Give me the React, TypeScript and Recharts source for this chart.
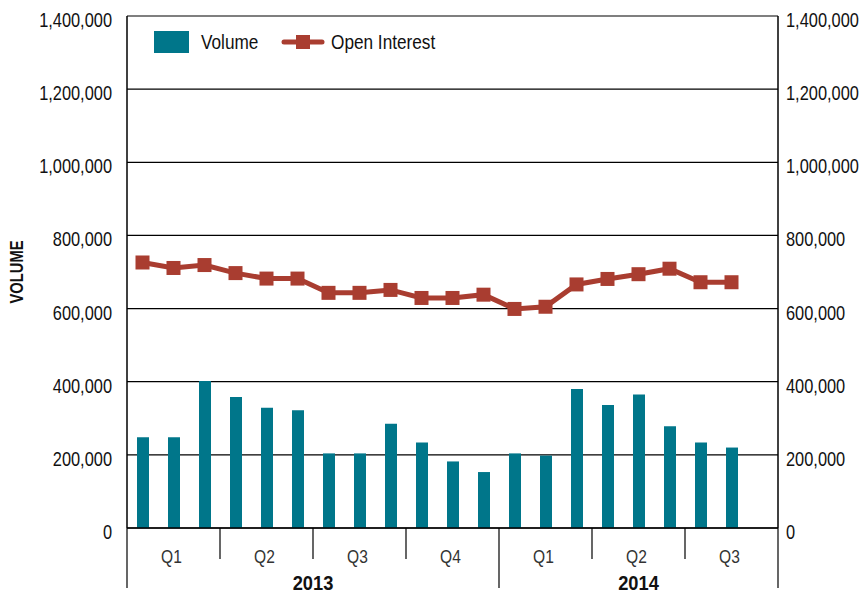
import React from 'react';
import { ComposedChart, Bar, Line, XAxis, YAxis, CartesianGrid, Legend } from 'recharts';

const FONT = '"Liberation Sans", Arial, sans-serif';
const SQUEEZE = 0.82; // Liberation Sans squeezed to look like a narrow face
const TEAL = '#00768a';
const RED = '#a93d30';

// one category per month, Jan 2013 - Sep 2014
const months = [
    'Jan 13', 'Feb 13', 'Mar 13', 'Apr 13', 'May 13', 'Jun 13',
    'Jul 13', 'Aug 13', 'Sep 13', 'Oct 13', 'Nov 13', 'Dec 13',
    'Jan 14', 'Feb 14', 'Mar 14', 'Apr 14', 'May 14', 'Jun 14',
    'Jul 14', 'Aug 14', 'Sep 14',
];
const quarterLabels = ['Q1', 'Q2', 'Q3', 'Q4', 'Q1', 'Q2', 'Q3'];
const yearLabels = ['2013', '2014'];

const volume = [
    248000, 248000, 402000, 358000, 329000, 322000,
    204000, 204000, 285000, 234000, 182000, 153000,
    204000, 198000, 380000, 336000, 365000, 278000,
    234000, 220000, null,
];
const openInterest = [
    726000, 711000, 719000, 697000, 682000, 682000,
    643000, 643000, 651000, 629000, 629000, 638000,
    599000, 605000, 666000, 681000, 694000, 709000,
    672000, 672000, null,
];
const yTicks = [0, 200000, 400000, 600000, 800000, 1000000, 1200000, 1400000];

const data = months.map((m, i) => ({
    month: m,
    Volume: volume[i],
    OpenInterest: openInterest[i],
}));

const fmt = (v: number) => v.toLocaleString('en-US');

const NText = ({ x, y, anchor = 'start', size = 20, weight = 'normal', fill = '#111', rotate = 0, squeeze = SQUEEZE, children }: any) => (
    <text
        transform={`translate(${x},${y}) rotate(${rotate}) scale(${squeeze},1)`}
        x={0}
        y={0}
        dy="0.35em"
        textAnchor={anchor}
        fontSize={size}
        fontWeight={weight}
        fill={fill}
        fontFamily={FONT}
    >
        {children}
    </text>
);

const YTick = (props: any) => {
    const { x, y, payload, textAnchor } = props;
    return <NText x={x} y={y + 4} anchor={textAnchor}>{fmt(payload.value)}</NText>;
};

const XTick = (props: any) => {
    const { x, y, index, width, visibleTicksCount } = props;
    const band = width / visibleTicksCount;
    const parts: any[] = [];
    // boundaries at start of every quarter, longer at start of each year
    if (index % 3 === 0) {
        const long = index === 0 || index === 12;
        parts.push(<line key="b" x1={x - band / 2} x2={x - band / 2} y1={y} y2={y + (long ? 60 : 31)} stroke="#000" strokeWidth={1.2} />);
    }
    if (index === visibleTicksCount - 1) {
        parts.push(<line key="e" x1={x + band / 2} x2={x + band / 2} y1={y} y2={y + 60} stroke="#000" strokeWidth={1.2} />);
    }
    if (index % 3 === 1) {
        parts.push(
            <NText key="q" x={x - 2} y={y + 28} anchor="middle" size={19} fill="#333">
                {quarterLabels[Math.floor(index / 3)]}
            </NText>
        );
    }
    if (index === 5) {
        parts.push(
            <NText key="y" x={x + band / 2} y={y + 55} anchor="middle" size={21} weight="bold" squeeze={0.87}>
                {yearLabels[0]}
            </NText>
        );
    }
    if (index === 16) {
        parts.push(
            <NText key="y" x={x} y={y + 55} anchor="middle" size={21} weight="bold" squeeze={0.87}>
                {yearLabels[1]}
            </NText>
        );
    }
    return <g>{parts}</g>;
};

const VolumeLabel = (props: any) => {
    const { viewBox } = props;
    return (
        <NText x={viewBox.x + 17} y={viewBox.y + viewBox.height / 2} anchor="middle" size={18} weight="bold" rotate={-90}>
            VOLUME
        </NText>
    );
};

const SquareDot = (props: any) => {
    const { cx, cy, index } = props;
    if (cx == null || cy == null) return <g key={`d${index}`} />;
    return <rect key={`d${index}`} x={cx - 7} y={cy - 7} width={14} height={14} fill={RED} />;
};

const LegendContent = () => (
    <svg width={300} height={24} style={{ display: 'block' }}>
        <rect x={0} y={1} width={35} height={22} fill={TEAL} />
        <NText x={47} y={12} size={21}>Volume</NText>
        <line x1={130} x2={168} y1={12} y2={12} stroke={RED} strokeWidth={5} strokeLinecap="round" />
        <rect x={142} y={5} width={14} height={14} fill={RED} />
        <NText x={177} y={12} size={21}>Open Interest</NText>
    </svg>
);

export default function App() {
    return (
        <div>
            <style>{'body{margin:0}'}</style>
            <ComposedChart
                width={861}
                height={595}
                data={data}
                margin={{ top: 16, right: 0, left: 0, bottom: 0 }}
            >
                <CartesianGrid yAxisId="left" vertical={false} stroke="#000" strokeWidth={1.2} />
                <XAxis
                    dataKey="month"
                    height={67}
                    interval={0}
                    tickLine={false}
                    tickSize={0}
                    tickMargin={0}
                    axisLine={{ stroke: '#000', strokeWidth: 1.5 }}
                    tick={<XTick />}
                />
                <YAxis
                    yAxisId="left"
                    width={127}
                    domain={[0, 1400000]}
                    ticks={yTicks}
                    tickLine={false}
                    tickSize={0}
                    tickMargin={15}
                    axisLine={{ stroke: '#000', strokeWidth: 1.5 }}
                    tick={<YTick />}
                    label={<VolumeLabel />}
                />
                <YAxis
                    yAxisId="right"
                    orientation="right"
                    width={83}
                    domain={[0, 1400000]}
                    ticks={yTicks}
                    tickLine={false}
                    tickSize={0}
                    tickMargin={8}
                    axisLine={{ stroke: '#000', strokeWidth: 1.5 }}
                    tick={<YTick />}
                />
                <Legend
                    layout="vertical"
                    verticalAlign="middle"
                    align="center"
                    wrapperStyle={{ top: 30, left: 154, width: 'auto' }}
                    content={<LegendContent />}
                />
                <Bar yAxisId="left" dataKey="Volume" fill={TEAL} barSize={12} isAnimationActive={false} />
                <Line
                    yAxisId="right"
                    dataKey="OpenInterest"
                    stroke={RED}
                    strokeWidth={5}
                    dot={SquareDot}
                    activeDot={false}
                    isAnimationActive={false}
                />
            </ComposedChart>
        </div>
    );
}
